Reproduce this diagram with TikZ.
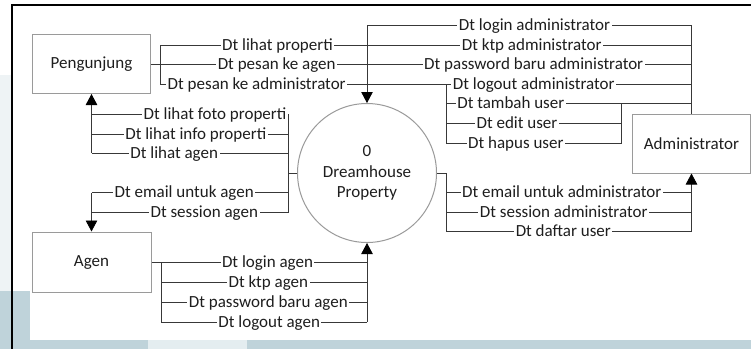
\documentclass[tikz,border=0pt]{standalone}
\usepackage{fontspec}
\setmainfont{Carlito}
\usetikzlibrary{arrows.meta}
\definecolor{panel}{HTML}{BFD3DA}
\definecolor{panelpale}{HTML}{E4EDF0}
\definecolor{panellight}{HTML}{EEF3F5}
\definecolor{ink}{HTML}{1E1E1E}
\definecolor{edge}{HTML}{9A9A9A}
\begin{document}
\begin{tikzpicture}[x=1pt,y=-1pt,
  entity/.style={draw=edge, line width=1pt, minimum width=118pt, minimum height=59pt,
    inner sep=0pt, text=ink, font=\fontsize{17}{20.5}\selectfont},
  process/.style={circle, draw=edge, line width=1pt, minimum size=139pt, inner sep=0pt,
    align=center, text=ink, font=\fontsize{17}{20.5}\selectfont},
  flow/.style={draw=black!78, line width=0.8pt},
  arr/.style={-{Triangle[width=11.5pt,length=11pt,color=black]}},
  lbl/.style={fill=white, inner xsep=1.5pt, inner ysep=0.6pt, anchor=base, yshift=-5pt,
    text=ink, font=\fontsize{17}{20}\selectfont}]
\useasboundingbox (0,0) rectangle (751,349);

% page background and frame
\fill[white] (0,0) rectangle (751,349);
\fill[panellight] (0,75) rectangle (11,291);
\fill[panel] (0,291) rectangle (30,349);
\fill[panel] (0,340) rectangle (751,349);
\fill[panelpale] (148,340) rectangle (247,349);
\draw[black, line width=2pt] (751,5) -- (12,5) -- (12,349);

% external entities and the process
\node[entity] (peng) at (91.5,64) {Pengunjung};
\node[entity, minimum width=119pt, minimum height=60pt] (agen) at (91.5,262) {Agen};
\node[entity] (admin) at (691.5,143.5) {Administrator};
\node[process] (proc) at (367,173) {0\\Dreamhouse\\Property};

% junction points
\coordinate (pgTop) at (160,45);
\coordinate (pgMid) at (160,64);
\coordinate (pgBot) at (160,84);
\coordinate (inTop) at (367,25);
\coordinate (adTop) at (691.5,25);
\coordinate (adR2) at (691.5,45);
\coordinate (adR3) at (691.5,64);
\coordinate (adR4) at (691.5,84);
\coordinate (adR5) at (691.5,103.7);
\coordinate (usTop) at (446,84);
\coordinate (usR5) at (446,103.7);
\coordinate (usR6) at (446,123.3);
\coordinate (usBot) at (446,143);
\coordinate (edR5) at (621,103.7);
\coordinate (edR6) at (621,123.3);
\coordinate (edBot) at (621,143);
\coordinate (lfMid) at (288,173);
\coordinate (lfTop) at (288,114);
\coordinate (lfR2) at (288,134);
\coordinate (lfR3) at (288,153);
\coordinate (lfR4) at (288,192.7);
\coordinate (lfBot) at (288,212.5);
\coordinate (pnTop) at (91.5,114);
\coordinate (pnR2) at (91.5,134);
\coordinate (pnBot) at (91.5,153);
\coordinate (agTop) at (91.5,192.7);
\coordinate (agBot) at (91.5,212.5);
\coordinate (rtMid) at (446.5,173);
\coordinate (rtR1) at (446.5,192.7);
\coordinate (rtR2) at (446.5,212);
\coordinate (rtBot) at (446.5,231);
\coordinate (arR1) at (691.5,192.7);
\coordinate (arR2) at (691.5,212);
\coordinate (arBot) at (691.5,231);
\coordinate (abMid) at (161,262);
\coordinate (abR2) at (161,282.2);
\coordinate (abR3) at (161,302.2);
\coordinate (abBot) at (161,322);
\coordinate (ibMid) at (367,262);
\coordinate (ibR2) at (367,282.2);
\coordinate (ibR3) at (367,302.2);
\coordinate (ibBot) at (367,322);

% Pengunjung and Administrator into the process (top)
\draw[flow] (peng.east) -- (pgMid);
\draw[flow] (pgTop) -- (pgBot);
\draw[flow] (pgTop) -- (adR2);
\draw[flow] (pgMid) -- (adR3);
\draw[flow] (pgBot) -- (adR4);
\draw[flow] (inTop) -- (adTop);
\draw[flow] (admin.north) -- (adTop);
\draw[flow, arr] (inTop) -- (proc.north);
\draw[flow] (usTop) -- (usBot) -- (edBot) -- (edR5);
\draw[flow] (usR5) -- (adR5);
\draw[flow] (usR6) -- (edR6);

% process to Pengunjung and Agen (left)
\draw[flow] (proc.west) -- (lfMid);
\draw[flow] (lfTop) -- (lfBot);
\draw[flow] (lfTop) -- (pnTop);
\draw[flow] (lfR2) -- (pnR2);
\draw[flow] (lfR3) -- (pnBot);
\draw[flow, arr] (pnBot) -- (peng.south);
\draw[flow] (lfR4) -- (agTop);
\draw[flow] (lfBot) -- (agBot);
\draw[flow, arr] (agTop) -- (agen.north);

% process to Administrator (right)
\draw[flow] (proc.east) -- (rtMid) -- (rtBot) -- (arBot);
\draw[flow] (rtR1) -- (arR1);
\draw[flow] (rtR2) -- (arR2);
\draw[flow, arr] (arBot) -- (admin.south);

% Agen into the process (bottom)
\draw[flow] (agen.east) -- (abMid);
\draw[flow] (abMid) -- (abBot);
\draw[flow] (abMid) -- (ibMid);
\draw[flow] (abR2) -- (ibR2);
\draw[flow] (abR3) -- (ibR3);
\draw[flow] (abBot) -- (ibBot);
\draw[flow, arr] (ibBot) -- (proc.south);

% data flow labels
\node[lbl] (l01) at (277.5,45) {Dt lihat properti};
\node[lbl] (l02) at (276.7,64) {Dt pesan ke agen};
\node[lbl] (l03) at (256.7,84) {Dt pesan ke administrator};
\node[lbl] (l04) at (534.5,25) {Dt login administrator};
\node[lbl] (l05) at (531.7,45) {Dt ktp administrator};
\node[lbl] (l06) at (533.7,64) {Dt password baru administrator};
\node[lbl] (l07) at (533.8,84) {Dt logout administrator};
\node[lbl] (l08) at (510.8,103.7) {Dt tambah user};
\node[lbl] (l09) at (517,123.3) {Dt edit user};
\node[lbl] (l10) at (515.8,143) {Dt hapus user};
\node[lbl] (l11) at (215,114) {Dt lihat foto properti};
\node[lbl] (l12) at (195.8,134) {Dt lihat info properti};
\node[lbl] (l13) at (174.2,153) {Dt lihat agen};
\node[lbl] (l14) at (184.2,192.7) {Dt email untuk agen};
\node[lbl] (l15) at (204.3,212.5) {Dt session agen};
\node[lbl] (l16) at (561.7,192.7) {Dt email untuk administrator};
\node[lbl] (l17) at (563.7,212) {Dt session administrator};
\node[lbl] (l18) at (563.3,231) {Dt daftar user};
\node[lbl] (l19) at (267.5,262) {Dt login agen};
\node[lbl] (l20) at (268.3,282.2) {Dt ktp agen};
\node[lbl] (l21) at (268.3,302.2) {Dt password baru agen};
\node[lbl] (l22) at (269.2,322) {Dt logout agen};
\end{tikzpicture}
\end{document}
